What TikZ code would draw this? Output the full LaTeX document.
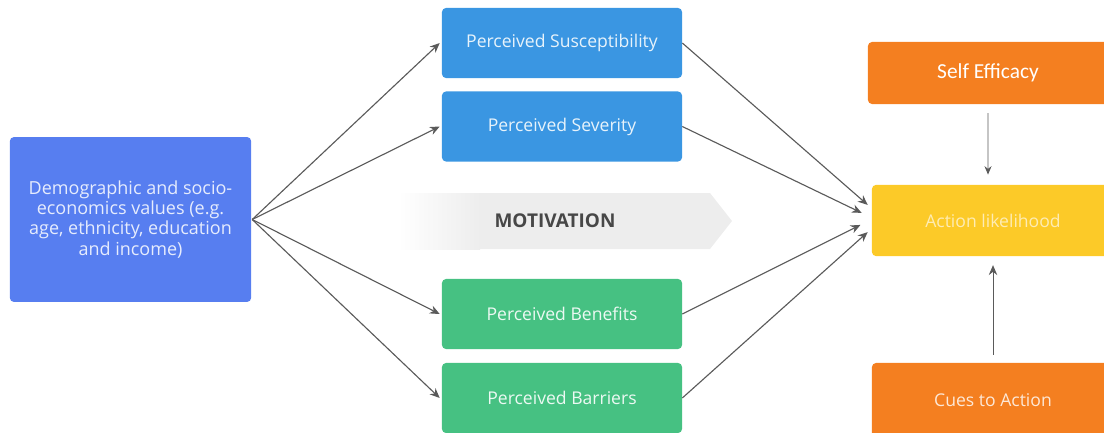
\documentclass[tikz,border=0pt]{standalone}
\usepackage{fontspec}
\setmainfont{Open Sans}
\newfontfamily\calibrifont{Carlito}
\usetikzlibrary{arrows.meta,positioning}
\definecolor{demoblue}{RGB}{87,126,240}
\definecolor{percblue}{RGB}{58,150,226}
\definecolor{percgreen}{RGB}{70,193,130}
\definecolor{cueorange}{RGB}{244,127,32}
\definecolor{actyellow}{RGB}{252,202,40}
\definecolor{arrowgray}{RGB}{90,90,90}
\tikzset{
  box/.style = {rounded corners=0.1cm, inner sep=2pt, align=center, font=\fontsize{12.5}{15}\selectfont},
  bluebox/.style = {box, fill=percblue, text=white!88!percblue, minimum width=6cm, minimum height=1.75cm},
  greenbox/.style = {box, fill=percgreen, text=white!90!percgreen, minimum width=6cm, minimum height=1.75cm},
  orangebox/.style = {box, fill=cueorange, minimum width=6cm},
  flow/.style = {-{Stealth[length=7pt,width=6pt]}, arrowgray, line width=0.8pt},
}

\begin{document}
\begin{tikzpicture}[x=0.025cm, y=-0.025cm]
\useasboundingbox (0,0) rectangle (1104,433);

% motivation band
\fill[black!7] (398,193) -- (710,193) -- (732,221) -- (710,249) -- (398,249) -- cycle;
\fill[left color=white, right color=black!7] (398,193) rectangle (480,249);
\node[font=\fontsize{13.5}{16}\bfseries\selectfont, text=black!72] (motiv) at (555,221) {MOTIVATION};

% background factors
\node[box, fill=demoblue, text=white!85!demoblue, minimum width=6.03cm, minimum height=4.12cm,
  font=\fontsize{12.8}{14.3}\selectfont]
  (demo) at (130.5,219.5) {Demographic and socio-\\economics values (e.g.\\age, ethnicity, education\\and income)};

% perceptions
\node[bluebox] (susc) at (562,43) {Perceived Susceptibility};
\node[bluebox] (sev) at (562,126.5) {Perceived Severity};
\node[greenbox] (ben) at (562,314) {Perceived Benefits};
\node[greenbox] (bar) at (562,398) {Perceived Barriers};

% right column
\node[orangebox, minimum height=1.55cm, text=white, font=\calibrifont\fontsize{15.2}{17}\selectfont]
  (selfeff) at (988,73) {Self Efficacy};
\node[box, fill=actyellow, text=white!65!actyellow, minimum width=6.05cm, minimum height=1.78cm]
  (action) at (993,220.5) {Action likelihood};
\node[orangebox, minimum width=6.05cm, minimum height=1.85cm, text=white!82!cueorange]
  (cues) at (993,400) {Cues to Action};

% arrows
\foreach \t in {susc,sev,ben,bar}
  \draw[flow] ([xshift=0.02cm]demo.east) -- ([xshift=-0.05cm]\t.west);

\draw[flow] (susc.east) -- ([xshift=-0.1cm,yshift=0.39cm]action.west);
\draw[flow] (sev.east) -- ([xshift=-0.25cm,yshift=0.19cm]action.west);
\draw[flow] (ben.east) -- ([xshift=-0.28cm,yshift=-0.11cm]action.west);
\draw[flow] (bar.east) -- ([xshift=-0.1cm,yshift=-0.29cm]action.west);

\draw[flow, line width=0.6pt, -{Stealth[length=6pt,width=5pt]}] ([yshift=-0.22cm]selfeff.south) -- ([xshift=-0.125cm,yshift=0.25cm]action.north);
\draw[flow, line width=0.7pt] ([yshift=0.2cm]cues.north) -- ([yshift=-0.22cm]action.south);

\end{tikzpicture}
\end{document}
